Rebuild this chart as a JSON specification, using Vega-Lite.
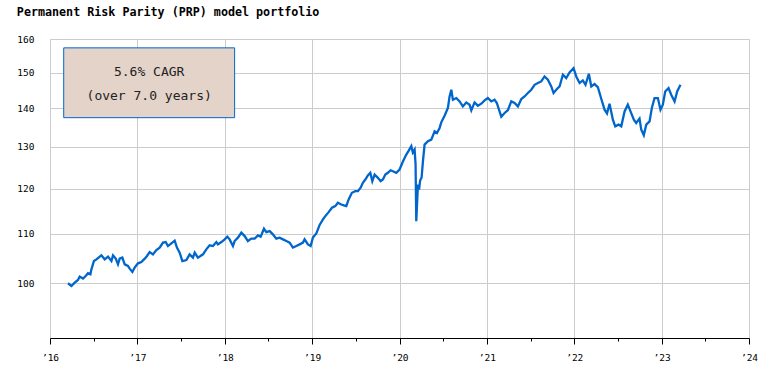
{
  "$schema": "https://vega.github.io/schema/vega-lite/v6.json",
  "width": 699,
  "height": 299,
  "autosize": {"type": "none"},
  "padding": {"left": 50, "top": 39, "right": 34, "bottom": 41},
  "background": "white",
  "title": {
    "text": "Permanent Risk Parity (PRP) model portfolio",
    "anchor": "start",
    "font": "DejaVu Sans Mono",
    "fontSize": 11.7,
    "fontWeight": "bold",
    "color": "#000000",
    "baseline": "alphabetic",
    "offset": 6
  },
  "config": {
    "view": {"stroke": null},
    "axis": {"labelFont": "DejaVu Sans Mono", "labelFontSize": 9.5, "labelColor": "#000000", "gridColor": "#cccccc", "gridWidth": 1, "title": null}
  },
  "datasets": {
    "prp": [
      {"t":2016.206,"v":100.0},{"t":2016.245,"v":99.48},{"t":2016.283,"v":100.13},{"t":2016.320,"v":100.64},{"t":2016.340,"v":101.29},
      {"t":2016.378,"v":100.91},{"t":2016.408,"v":101.41},{"t":2016.435,"v":101.94},{"t":2016.462,"v":101.74},{"t":2016.474,"v":102.72},
      {"t":2016.503,"v":104.37},{"t":2016.531,"v":104.71},{"t":2016.588,"v":105.52},{"t":2016.626,"v":104.71},{"t":2016.664,"v":105.26},
      {"t":2016.703,"v":104.37},{"t":2016.721,"v":105.52},{"t":2016.752,"v":104.85},{"t":2016.778,"v":103.71},{"t":2016.797,"v":104.85},
      {"t":2016.828,"v":105.06},{"t":2016.855,"v":103.71},{"t":2016.892,"v":103.38},{"t":2016.912,"v":102.86},{"t":2016.943,"v":102.19},
      {"t":2016.969,"v":103.06},{"t":2017.007,"v":103.91},{"t":2017.046,"v":104.17},{"t":2017.084,"v":104.85},{"t":2017.110,"v":105.38},
      {"t":2017.141,"v":106.19},{"t":2017.178,"v":105.72},{"t":2017.217,"v":106.60},{"t":2017.255,"v":107.09},{"t":2017.293,"v":108.13},
      {"t":2017.324,"v":108.25},{"t":2017.350,"v":107.42},{"t":2017.389,"v":107.98},{"t":2017.427,"v":108.54},{"t":2017.453,"v":107.09},
      {"t":2017.484,"v":106.07},{"t":2017.515,"v":104.37},{"t":2017.561,"v":104.57},{"t":2017.598,"v":105.72},{"t":2017.636,"v":105.06},
      {"t":2017.656,"v":106.07},{"t":2017.693,"v":105.06},{"t":2017.751,"v":105.72},{"t":2017.789,"v":106.74},{"t":2017.827,"v":107.57},
      {"t":2017.865,"v":107.42},{"t":2017.904,"v":108.25},{"t":2017.922,"v":107.77},{"t":2017.961,"v":108.25},{"t":2017.999,"v":108.81},
      {"t":2018.030,"v":109.38},{"t":2018.056,"v":108.81},{"t":2018.094,"v":107.42},{"t":2018.113,"v":108.46},{"t":2018.151,"v":109.17},
      {"t":2018.190,"v":110.22},{"t":2018.228,"v":109.50},{"t":2018.265,"v":108.46},{"t":2018.304,"v":108.96},{"t":2018.342,"v":108.96},
      {"t":2018.380,"v":109.65},{"t":2018.411,"v":109.38},{"t":2018.449,"v":111.07},{"t":2018.476,"v":110.35},{"t":2018.514,"v":110.56},
      {"t":2018.551,"v":109.86},{"t":2018.590,"v":108.96},{"t":2018.628,"v":109.17},{"t":2018.666,"v":108.81},{"t":2018.705,"v":108.46},
      {"t":2018.743,"v":108.13},{"t":2018.780,"v":107.09},{"t":2018.819,"v":107.42},{"t":2018.857,"v":107.77},{"t":2018.895,"v":108.13},
      {"t":2018.914,"v":108.81},{"t":2018.952,"v":107.77},{"t":2018.983,"v":107.42},{"t":2019.009,"v":109.17},{"t":2019.048,"v":110.07},
      {"t":2019.086,"v":111.88},{"t":2019.124,"v":113.07},{"t":2019.151,"v":113.79},{"t":2019.189,"v":114.67},{"t":2019.227,"v":115.64},
      {"t":2019.265,"v":116.00},{"t":2019.295,"v":116.75},{"t":2019.334,"v":116.37},{"t":2019.364,"v":116.15},{"t":2019.391,"v":116.00},
      {"t":2019.418,"v":117.50},{"t":2019.455,"v":119.02},{"t":2019.494,"v":119.38},{"t":2019.524,"v":119.38},{"t":2019.555,"v":120.17},
      {"t":2019.581,"v":121.32},{"t":2019.609,"v":122.09},{"t":2019.638,"v":123.04},{"t":2019.666,"v":123.68},{"t":2019.689,"v":121.70},
      {"t":2019.715,"v":123.27},{"t":2019.753,"v":122.49},{"t":2019.784,"v":121.70},{"t":2019.810,"v":122.09},{"t":2019.838,"v":123.27},
      {"t":2019.867,"v":123.68},{"t":2019.898,"v":124.29},{"t":2019.924,"v":124.05},{"t":2019.963,"v":123.68},{"t":2020.001,"v":124.46},
      {"t":2020.039,"v":126.39},{"t":2020.078,"v":128.10},{"t":2020.104,"v":129.03},{"t":2020.135,"v":130.20},{"t":2020.153,"v":128.59},
      {"t":2020.173,"v":129.33},{"t":2020.184,"v":125.66},{"t":2020.192,"v":112.70},{"t":2020.211,"v":120.93},{"t":2020.224,"v":119.77},
      {"t":2020.236,"v":121.86},{"t":2020.253,"v":122.56},{"t":2020.268,"v":126.39},{"t":2020.287,"v":130.57},{"t":2020.325,"v":131.41},
      {"t":2020.364,"v":131.84},{"t":2020.402,"v":133.96},{"t":2020.428,"v":133.54},{"t":2020.459,"v":134.83},{"t":2020.478,"v":136.29},
      {"t":2020.516,"v":138.05},{"t":2020.554,"v":140.11},{"t":2020.573,"v":143.26},{"t":2020.593,"v":145.12},{"t":2020.611,"v":142.36},
      {"t":2020.650,"v":142.82},{"t":2020.688,"v":141.89},{"t":2020.725,"v":140.54},{"t":2020.764,"v":141.62},{"t":2020.802,"v":141.00},
      {"t":2020.822,"v":139.46},{"t":2020.859,"v":141.62},{"t":2020.897,"v":140.73},{"t":2020.936,"v":141.27},{"t":2020.974,"v":142.17},
      {"t":2021.011,"v":142.82},{"t":2021.050,"v":141.89},{"t":2021.088,"v":142.36},{"t":2021.114,"v":141.46},{"t":2021.145,"v":139.19},
      {"t":2021.165,"v":137.78},{"t":2021.203,"v":138.77},{"t":2021.240,"v":139.51},{"t":2021.279,"v":141.89},{"t":2021.317,"v":141.46},
      {"t":2021.355,"v":140.54},{"t":2021.394,"v":142.55},{"t":2021.431,"v":143.26},{"t":2021.469,"v":144.20},{"t":2021.508,"v":145.12},
      {"t":2021.546,"v":146.51},{"t":2021.584,"v":146.99},{"t":2021.622,"v":147.45},{"t":2021.660,"v":148.87},{"t":2021.698,"v":147.93},
      {"t":2021.737,"v":146.04},{"t":2021.763,"v":144.20},{"t":2021.794,"v":145.12},{"t":2021.832,"v":146.04},{"t":2021.870,"v":149.35},
      {"t":2021.908,"v":148.41},{"t":2021.946,"v":150.01},{"t":2021.992,"v":151.28},{"t":2022.023,"v":148.87},{"t":2022.061,"v":146.99},
      {"t":2022.098,"v":147.73},{"t":2022.129,"v":146.51},{"t":2022.167,"v":149.64},{"t":2022.195,"v":146.04},{"t":2022.232,"v":146.71},
      {"t":2022.270,"v":145.82},{"t":2022.309,"v":142.63},{"t":2022.347,"v":139.65},{"t":2022.375,"v":138.66},{"t":2022.404,"v":141.27},
      {"t":2022.442,"v":137.00},{"t":2022.469,"v":135.25},{"t":2022.507,"v":135.69},{"t":2022.538,"v":135.25},{"t":2022.576,"v":139.19},
      {"t":2022.613,"v":141.00},{"t":2022.644,"v":139.19},{"t":2022.682,"v":137.00},{"t":2022.709,"v":136.13},{"t":2022.747,"v":137.26},
      {"t":2022.767,"v":134.39},{"t":2022.796,"v":132.98},{"t":2022.824,"v":135.69},{"t":2022.862,"v":136.55},{"t":2022.888,"v":140.11},
      {"t":2022.919,"v":142.82},{"t":2022.957,"v":142.82},{"t":2022.987,"v":139.65},{"t":2023.014,"v":141.00},{"t":2023.041,"v":144.64},
      {"t":2023.079,"v":145.59},{"t":2023.110,"v":143.73},{"t":2023.148,"v":141.89},{"t":2023.178,"v":144.64},{"t":2023.216,"v":146.51}
    ],
    "box": [{"x1": 2016.157, "x2": 2018.113, "y1": 157.3, "y2": 137.52}],
    "notes": [
      {"t": 2017.135, "v": 150.2, "label": "5.6% CAGR"},
      {"t": 2017.135, "v": 143.4, "label": "(over 7.0 years)"}
    ]
  },
  "layer": [
    {
      "data": {"name": "prp"},
      "mark": {"type": "line", "color": "#0066cc", "strokeWidth": 2.3, "interpolate": "linear"},
      "encoding": {
        "x": {"field": "t", "type": "quantitative",
          "scale": {"domain": [2016, 2024], "nice": false, "zero": false},
          "axis": {"orient": "bottom",
            "values": [2016,2016.25,2016.5,2016.75,2017,2017.25,2017.5,2017.75,2018,2018.25,2018.5,2018.75,2019,2019.25,2019.5,2019.75,2020,2020.25,2020.5,2020.75,2021,2021.25,2021.5,2021.75,2022,2022.25,2022.5,2022.75,2023,2023.25,2023.5,2023.75,2024],
            "labelExpr": "datum.value % 1 === 0 ? '’' + slice(format(datum.value, 'd'), 2) : ''",
            "grid": true,
            "gridOpacity": {"expr": "datum.value % 1 === 0 ? 1 : 0"},
            "domain": true, "domainColor": "#000000", "domainWidth": 1,
            "ticks": true, "tickColor": "#000000",
            "tickSize": {"expr": "datum.value % 1 === 0 ? 6 : 3"},
            "labelPadding": 8, "labelFlush": false, "labelOverlap": false}},
        "y": {"field": "v", "type": "quantitative",
          "scale": {"type": "log", "domain": [90, 160], "nice": false, "zero": false},
          "axis": {"values": [100,110,120,130,140,150,160], "format": "d", "grid": true, "domain": false, "ticks": false, "tickSize": 0, "labelPadding": 16}}
      }
    },
    {
      "data": {"name": "box"},
      "mark": {"type": "rect", "fill": "#e4d3c9", "stroke": "#0066cc", "strokeWidth": 1},
      "encoding": {
        "x": {"field": "x1", "type": "quantitative"},
        "x2": {"field": "x2"},
        "y": {"field": "y1", "type": "quantitative"},
        "y2": {"field": "y2"}
      }
    },
    {
      "data": {"name": "notes"},
      "mark": {"type": "text", "font": "DejaVu Sans Mono", "fontSize": 13, "color": "#222222", "align": "center", "baseline": "middle"},
      "encoding": {
        "x": {"field": "t", "type": "quantitative"},
        "y": {"field": "v", "type": "quantitative"},
        "text": {"field": "label"}
      }
    }
  ]
}
